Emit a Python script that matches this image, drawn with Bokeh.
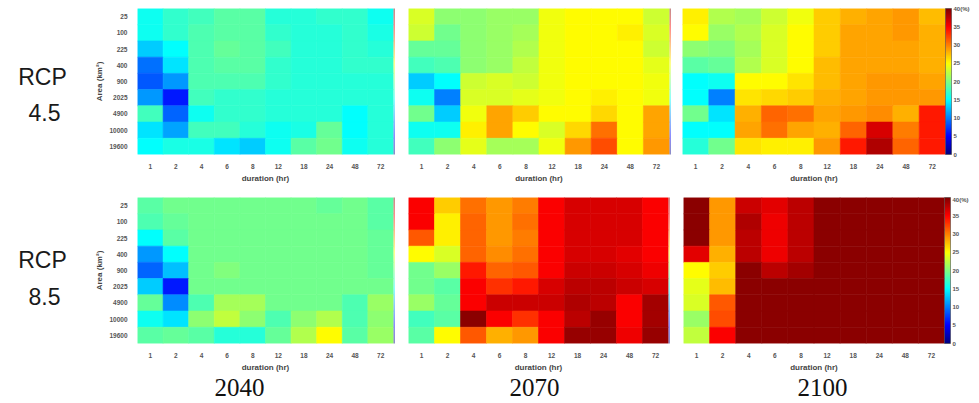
from bokeh.plotting import figure
from bokeh.models import (LinearColorMapper, ColorBar, FixedTicker, ColumnDataSource,
                          Range1d, FactorRange)
from bokeh.layouts import column, row
from bokeh.embed import file_html
from bokeh.resources import INLINE
from bokeh.core.properties import value

durations = ["1", "2", "4", "6", "8", "12", "18", "24", "48", "72"]
areas = ["25", "100", "225", "400", "900", "2025", "4900", "10000", "19600"]
cbar_ticks = [0, 5, 10, 15, 20, 25, 30, 35, 40]
row_labels = ["RCP\n4.5", "RCP\n8.5"]
year_labels = ["2040", "2070", "2100"]

# rows: areas top->bottom, columns: durations
rcp45_2040 = [
    [15.5, 17.0, 17.5, 18.5, 18.5, 16.5, 16.5, 17.0, 17.0, 15.5],
    [15.5, 17.0, 18.0, 18.5, 18.5, 17.0, 16.5, 16.5, 17.0, 16.0],
    [13.0, 15.0, 18.0, 19.0, 18.5, 17.5, 16.5, 16.5, 17.0, 16.5],
    [9.5, 14.0, 18.0, 18.5, 18.5, 17.0, 16.5, 16.5, 17.0, 17.0],
    [8.5, 11.0, 18.0, 18.0, 18.0, 17.0, 16.5, 16.5, 16.5, 16.5],
    [11.0, 6.0, 17.5, 17.0, 17.0, 16.5, 16.5, 16.5, 16.5, 16.5],
    [17.5, 9.0, 15.5, 17.0, 17.0, 16.5, 16.5, 16.5, 15.0, 16.5],
    [14.0, 11.5, 17.5, 17.5, 16.5, 15.5, 16.0, 19.0, 15.0, 16.5],
    [15.0, 16.0, 16.0, 14.0, 13.0, 15.5, 18.5, 19.5, 15.5, 16.5],
]
rcp45_2070 = [
    [23.5, 20.5, 20.5, 21.0, 21.0, 24.5, 25.0, 25.0, 25.0, 23.0],
    [23.0, 19.5, 20.5, 21.0, 21.5, 24.5, 25.0, 25.0, 25.5, 23.5],
    [19.0, 19.0, 20.5, 21.0, 22.0, 24.5, 25.0, 25.0, 25.0, 23.0],
    [17.5, 18.0, 20.5, 21.0, 22.5, 24.5, 25.0, 25.0, 25.0, 24.0],
    [13.0, 15.0, 23.0, 23.5, 23.0, 24.5, 25.0, 25.0, 25.0, 24.5],
    [15.5, 10.0, 23.5, 23.5, 24.0, 24.5, 25.0, 25.5, 25.0, 24.5],
    [19.5, 13.0, 24.5, 28.5, 27.0, 25.0, 25.0, 26.5, 25.0, 28.5],
    [15.5, 15.5, 25.5, 28.5, 25.0, 23.5, 26.5, 30.5, 25.0, 28.5],
    [17.5, 20.5, 24.0, 21.5, 21.5, 24.5, 29.0, 32.0, 25.0, 29.0],
]
rcp45_2100 = [
    [25.5, 22.0, 21.5, 23.0, 24.5, 27.0, 28.0, 28.5, 29.0, 27.5],
    [25.0, 21.0, 22.0, 23.5, 25.0, 27.0, 28.5, 28.5, 29.0, 28.0],
    [20.5, 20.0, 21.5, 23.5, 25.0, 27.0, 28.5, 28.5, 28.5, 28.0],
    [18.5, 19.0, 22.0, 23.5, 25.0, 27.5, 28.5, 28.5, 28.5, 28.0],
    [15.0, 15.5, 25.0, 25.0, 26.0, 27.5, 28.5, 29.0, 29.0, 28.5],
    [15.0, 10.0, 26.0, 26.5, 27.0, 28.0, 28.5, 29.0, 29.0, 29.0],
    [19.5, 14.0, 28.0, 31.0, 30.5, 28.5, 29.0, 29.5, 28.0, 34.0],
    [15.0, 15.0, 28.5, 30.5, 28.5, 28.0, 31.0, 36.5, 30.0, 34.0],
    [16.5, 19.5, 26.0, 25.5, 25.5, 29.0, 34.0, 38.0, 31.0, 34.0],
]
rcp85_2040 = [
    [18.5, 19.5, 19.5, 19.5, 19.5, 19.5, 19.5, 19.0, 19.5, 18.5],
    [18.0, 19.0, 19.5, 19.5, 19.5, 19.5, 19.5, 19.5, 19.5, 18.5],
    [15.0, 18.5, 19.5, 19.5, 19.5, 19.5, 19.5, 19.5, 19.5, 19.0],
    [11.0, 15.0, 19.5, 19.5, 19.5, 19.5, 19.5, 19.5, 19.5, 19.0],
    [9.0, 12.5, 19.5, 20.0, 19.5, 19.5, 19.5, 19.5, 19.5, 19.0],
    [13.0, 6.0, 19.5, 19.5, 19.5, 19.5, 19.5, 19.5, 19.5, 19.5],
    [19.0, 10.5, 18.0, 21.5, 21.5, 19.5, 19.5, 19.5, 18.0, 21.0],
    [15.5, 14.0, 20.5, 22.5, 20.5, 18.0, 20.5, 22.0, 18.0, 20.5],
    [18.5, 19.0, 18.5, 16.5, 16.5, 19.0, 22.0, 25.0, 18.5, 21.0],
]
rcp85_2070 = [
    [35.0, 27.0, 30.5, 29.0, 30.0, 35.0, 36.5, 36.5, 36.5, 35.0],
    [35.0, 25.5, 31.0, 29.0, 30.5, 35.0, 36.5, 36.5, 36.5, 35.0],
    [31.5, 25.5, 31.0, 29.0, 30.0, 35.0, 36.5, 36.5, 36.5, 35.0],
    [25.0, 23.5, 31.0, 29.5, 30.5, 35.0, 36.5, 36.5, 36.0, 35.0],
    [19.5, 21.0, 34.0, 31.0, 31.5, 35.0, 37.0, 37.0, 36.5, 35.5],
    [19.5, 18.5, 35.0, 33.0, 34.0, 36.5, 37.5, 37.5, 37.0, 36.5],
    [21.0, 19.0, 35.0, 37.0, 37.0, 37.0, 38.0, 37.5, 35.0, 38.5],
    [17.5, 18.5, 39.5, 35.0, 33.0, 35.0, 37.5, 39.0, 35.0, 38.5],
    [18.5, 25.0, 31.5, 28.0, 29.0, 35.0, 39.0, 39.0, 35.5, 39.0],
]
rcp85_2100 = [
    [39.5, 29.0, 37.0, 36.0, 37.5, 39.5, 39.5, 39.5, 39.5, 39.5],
    [39.5, 29.0, 38.0, 35.5, 37.5, 39.5, 39.5, 39.5, 39.5, 39.5],
    [39.5, 29.0, 37.5, 35.5, 37.5, 39.5, 39.5, 39.5, 39.5, 39.5],
    [36.0, 28.0, 37.5, 35.5, 37.5, 39.5, 39.5, 39.5, 39.5, 39.5],
    [25.0, 27.0, 39.5, 37.5, 38.5, 39.5, 39.5, 39.5, 39.5, 39.5],
    [24.0, 27.5, 39.5, 39.5, 39.5, 39.5, 39.5, 39.5, 39.5, 39.5],
    [23.5, 31.5, 39.5, 39.5, 39.5, 39.5, 39.5, 39.5, 39.5, 39.5],
    [21.0, 32.0, 39.5, 39.5, 39.5, 39.5, 39.5, 39.5, 39.5, 39.5],
    [22.5, 35.0, 39.5, 39.5, 39.5, 39.5, 39.5, 39.5, 39.5, 39.5],
]


def jet(n=256):
    cols = []
    for i in range(n):
        t = i / (n - 1)
        r = min(max(1.5 - abs(4 * t - 3), 0), 1)
        g = min(max(1.5 - abs(4 * t - 2), 0), 1)
        b = min(max(1.5 - abs(4 * t - 1), 0), 1)
        cols.append("#%02x%02x%02x" % (int(r * 255), int(g * 255), int(b * 255)))
    return cols


mapper = LinearColorMapper(palette=jet(), low=0, high=40)
FONT = "Liberation Sans"


def panel(data, left_border, frame_w, frame_h, top_b, bottom_b, show_y, cbar):
    xs, ys, vs = [], [], []
    for i, a in enumerate(areas):
        for j, d in enumerate(durations):
            xs.append(d)
            ys.append(a)
            vs.append(data[i][j])
    src = ColumnDataSource(dict(dur=xs, area=ys, val=vs))
    p = figure(x_range=FactorRange(*durations), y_range=FactorRange(*areas[::-1]),
               frame_width=frame_w, frame_height=frame_h, output_backend="svg",
               toolbar_location=None, y_axis_location="left" if show_y else None,
               min_border_left=left_border, min_border_right=0,
               min_border_top=top_b, min_border_bottom=bottom_b)
    p.rect(x="dur", y="area", width=1, height=1, source=src,
           fill_color={"field": "val", "transform": mapper},
           line_color={"field": "val", "transform": mapper}, line_width=0.6)
    p.outline_line_color = None
    p.grid.visible = False
    p.x_range.range_padding = 0
    p.y_range.range_padding = 0
    for ax in p.axis:
        ax.axis_line_color = None
        ax.major_tick_line_color = None
        ax.minor_tick_line_color = None
        ax.major_label_text_font = FONT
        ax.major_label_text_font_size = "6.5px"
        ax.major_label_text_font_style = "bold"
        ax.major_label_text_color = "#555555"
        ax.major_label_standoff = 3
        ax.axis_label_text_font = FONT
        ax.axis_label_text_font_size = "8px"
        ax.axis_label_text_font_style = "bold"
        ax.axis_label_text_color = "#444444"
        ax.axis_label_standoff = 2
    p.xaxis.axis_label = "duration (hr)"
    if show_y:
        p.yaxis.axis_label = "Area (km²)"
        p.yaxis.major_label_standoff = 4
    if cbar:
        cb = ColorBar(color_mapper=mapper, ticker=FixedTicker(ticks=cbar_ticks),
                      major_label_overrides={40: "40(%)"}, width=6, height=frame_h,
                      margin=2, padding=0, label_standoff=2,
                      major_label_text_font=FONT, major_label_text_font_size="6px",
                      major_label_text_font_style="bold",
                      major_label_text_color="#555555",
                      major_tick_line_color=None, bar_line_color="#333333",
                      bar_line_width=0.5, border_line_color=None,
                      background_fill_color=None)
    else:
        # sliver of the neighbouring colour bar visible at the panel's right edge
        cb = ColorBar(color_mapper=mapper, ticker=FixedTicker(ticks=[]), width=2,
                      height=frame_h, margin=0, padding=0, label_standoff=0,
                      major_label_text_font_size="0px", major_tick_line_color=None,
                      bar_line_color=None, border_line_color=None, scale_alpha=0.45,
                      background_fill_color=None)
    p.add_layout(cb, "right")
    return p


def label_fig(text, w, h, xs, ys):
    p = figure(x_range=Range1d(0, w), y_range=Range1d(h, 0), frame_width=w,
               frame_height=h, output_backend="svg", toolbar_location=None,
               min_border=0, x_axis_location=None, y_axis_location=None)
    p.outline_line_color = None
    p.grid.visible = False
    parts = text.split("\n")
    src = ColumnDataSource(dict(x=xs, y=ys, t=parts))
    p.text(x="x", y="y", text="t", source=src, text_font=value(FONT),
           text_font_size="23px", text_align="center", text_baseline="middle",
           text_color="#1a1a1a")
    return p


LW = 90
top_h = 8 + 146 + 42
bot_h = 1 + 146 + 24

t0 = label_fig(row_labels[0], LW, top_h, [42, 44], [68.5, 104])
p1 = panel(rcp45_2040, 47, 256, 146, 8, 42, True, False)
p2 = panel(rcp45_2070, 13, 261, 146, 8, 42, False, False)
p3 = panel(rcp45_2100, 11, 263, 146, 8, 42, False, True)

b0 = label_fig(row_labels[1], LW, bot_h, [42, 44], [62.5, 99])
p4 = panel(rcp85_2040, 47, 256, 146, 1, 24, True, False)
p5 = panel(rcp85_2070, 13, 260, 146, 1, 24, False, False)
p6 = panel(rcp85_2100, 13, 261, 146, 1, 24, False, True)

YW, YH = 975, 28
yf = figure(x_range=Range1d(0, YW), y_range=Range1d(YH, 0), frame_width=YW,
            frame_height=YH, output_backend="svg", toolbar_location=None,
            min_border=0, x_axis_location=None, y_axis_location=None)
yf.outline_line_color = None
yf.grid.visible = False
ysrc = ColumnDataSource(dict(x=[239, 534, 822], y=[12.5, 12.5, 12.5], t=year_labels))
yf.text(x="x", y="y", text="t", source=ysrc, text_font=value("Liberation Serif"),
        text_font_size="25px", text_align="center", text_baseline="middle",
        text_color="#111111")

layout = column(row(t0, p1, p2, p3), row(b0, p4, p5, p6), yf)

open("out.html", "w").write(file_html(layout, INLINE))
